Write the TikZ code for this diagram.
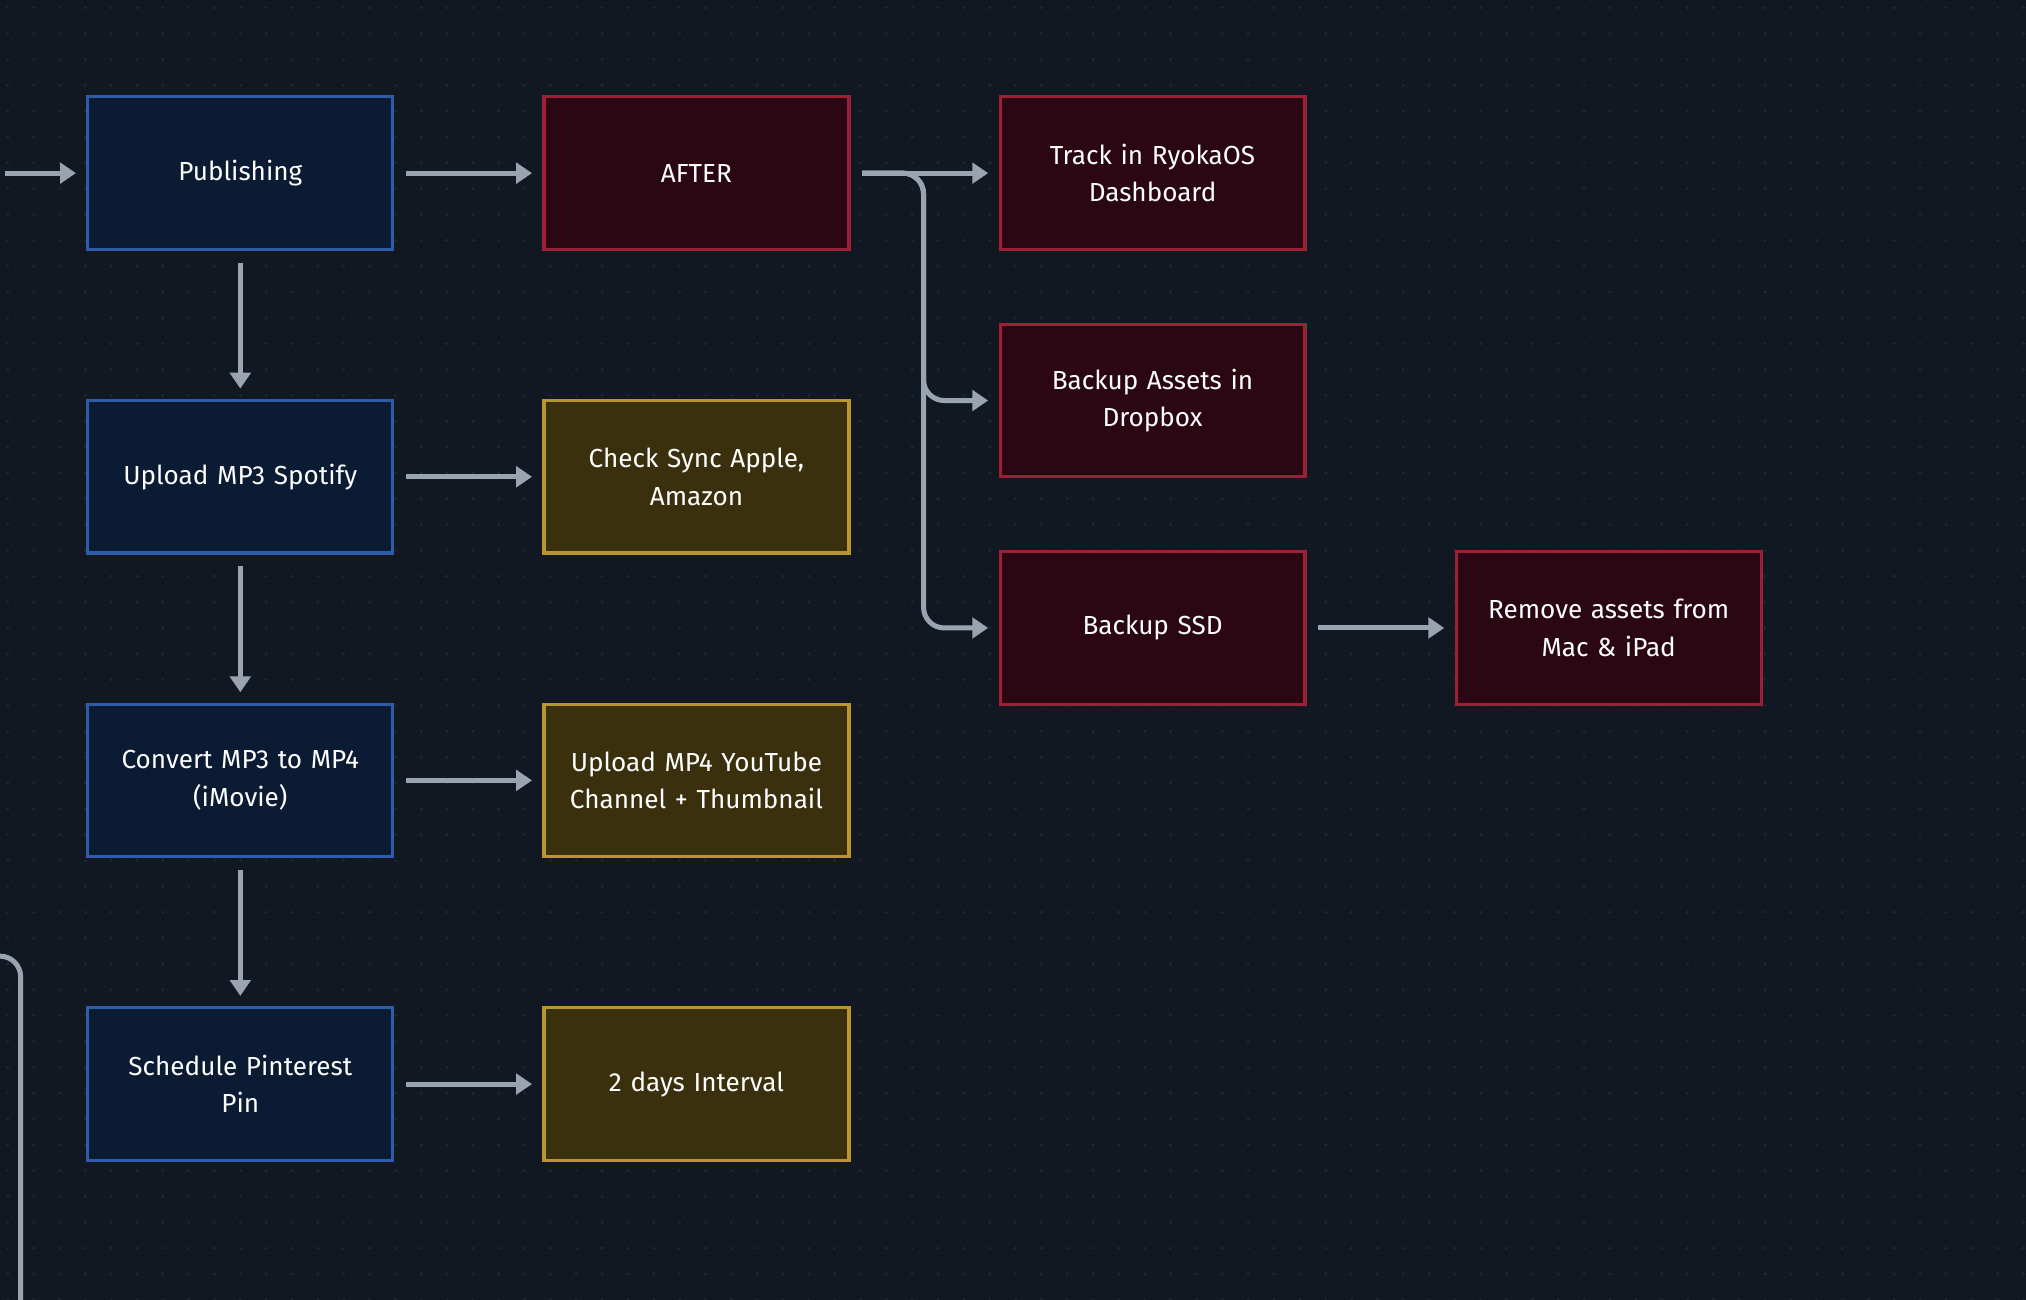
\documentclass[tikz,border=0pt]{standalone}
\usepackage{fontspec}
\setmainfont{Fira Sans}
\usetikzlibrary{positioning,arrows.meta}
\definecolor{bgc}{HTML}{111822}
\definecolor{dotc}{HTML}{1E2733}
\definecolor{bluefill}{HTML}{0A1B33}
\definecolor{blueline}{HTML}{2C5CAA}
\definecolor{redfill}{HTML}{2A0713}
\definecolor{redline}{HTML}{9E2036}
\definecolor{yelfill}{HTML}{3A300E}
\definecolor{yelline}{HTML}{B8962E}
\definecolor{arrowc}{HTML}{9AA4B0}
\tikzset{
  box/.style={draw, line width=1.4pt, minimum width=236*0.02cm, minimum height=118*0.02cm,
    text width=210*0.02cm, align=center, text=white,
    font=\fontsize{11.5}{16.5}\selectfont},
  bluebox/.style={box, fill=bluefill, draw=blueline},
  redbox/.style={box, fill=redfill, draw=redline},
  yelbox/.style={box, fill=yelfill, draw=yelline},
  flow/.style={draw=arrowc, line width=2.2pt, -{Triangle[length=7pt,width=9pt]}},
}
\begin{document}
\begin{tikzpicture}[x=0.02cm,y=-0.02cm]
  % fond et grille de points
  \fill[bgc] (0,0) rectangle (1568,1006);
  \useasboundingbox (0,0) rectangle (1568,1006);
  \clip (0,0) rectangle (1568,1006);
  \foreach \i in {0,...,78} {
    \foreach \j in {0,...,50} {
      \fill[dotc] (\i*20+6,\j*20+6) circle (1.2);
    }
  }

  % colonne de gauche
  \node[bluebox] (publish) at (186,134) {Publishing};
  \node[bluebox] (spotify) at (186,369) {Upload MP3 Spotify};
  \node[bluebox] (convert) at (186,604) {Convert MP3 to MP4\\(iMovie)};
  \node[bluebox] (pin) at (186,839) {Schedule Pinterest\\Pin};

  % colonne du milieu
  \node[redbox] (after) at (539,134) {AFTER};
  \node[yelbox] (sync) at (539,369) {Check Sync Apple,\\Amazon};
  \node[yelbox] (youtube) at (539,604) {Upload MP4 YouTube\\Channel + Thumbnail};
  \node[yelbox] (interval) at (539,839) {2 days Interval};

  % colonne de droite
  \node[redbox] (track) at (892,134) {Track in RyokaOS\\Dashboard};
  \node[redbox] (dropbox) at (892,310) {Backup Assets in\\Dropbox};
  \node[redbox] (ssd) at (892,486) {Backup SSD};
  \node[redbox] (remove) at (1245,486) {Remove assets from\\Mac \& iPad};

  % fleches
  \coordinate (entry) at (4,134);
  \draw[flow] (entry) -- ([xshift=-8*0.02cm]publish.west);
  \draw[flow] ([xshift=9*0.02cm]publish.east) -- ([xshift=-8*0.02cm]after.west);
  \draw[flow] ([xshift=9*0.02cm]spotify.east) -- ([xshift=-8*0.02cm]sync.west);
  \draw[flow] ([xshift=9*0.02cm]convert.east) -- ([xshift=-8*0.02cm]youtube.west);
  \draw[flow] ([xshift=9*0.02cm]pin.east) -- ([xshift=-8*0.02cm]interval.west);
  \draw[flow] ([yshift=-9*0.02cm]publish.south) -- ([yshift=8*0.02cm]spotify.north);
  \draw[flow] ([yshift=-9*0.02cm]spotify.south) -- ([yshift=8*0.02cm]convert.north);
  \draw[flow] ([yshift=-9*0.02cm]convert.south) -- ([yshift=8*0.02cm]pin.north);
  \draw[flow] ([xshift=9*0.02cm]after.east) -- ([xshift=-8*0.02cm]track.west);
  \draw[flow, rounded corners=16*0.02cm] ([xshift=9*0.02cm]after.east) -| ([xshift=-58*0.02cm]dropbox.west) -- ([xshift=-8*0.02cm]dropbox.west);
  \draw[flow, rounded corners=16*0.02cm] ([xshift=9*0.02cm]after.east) -| ([xshift=-58*0.02cm]ssd.west) -- ([xshift=-8*0.02cm]ssd.west);
  \draw[flow] ([xshift=9*0.02cm]ssd.east) -- ([xshift=-8*0.02cm]remove.west);

  % ligne de retour a gauche
  \coordinate (loopa) at (-20,740);
  \coordinate (loopb) at (16,1020);
  \draw[draw=arrowc, line width=2.2pt, rounded corners=16*0.02cm] (loopa) -| (loopb);
\end{tikzpicture}
\end{document}
